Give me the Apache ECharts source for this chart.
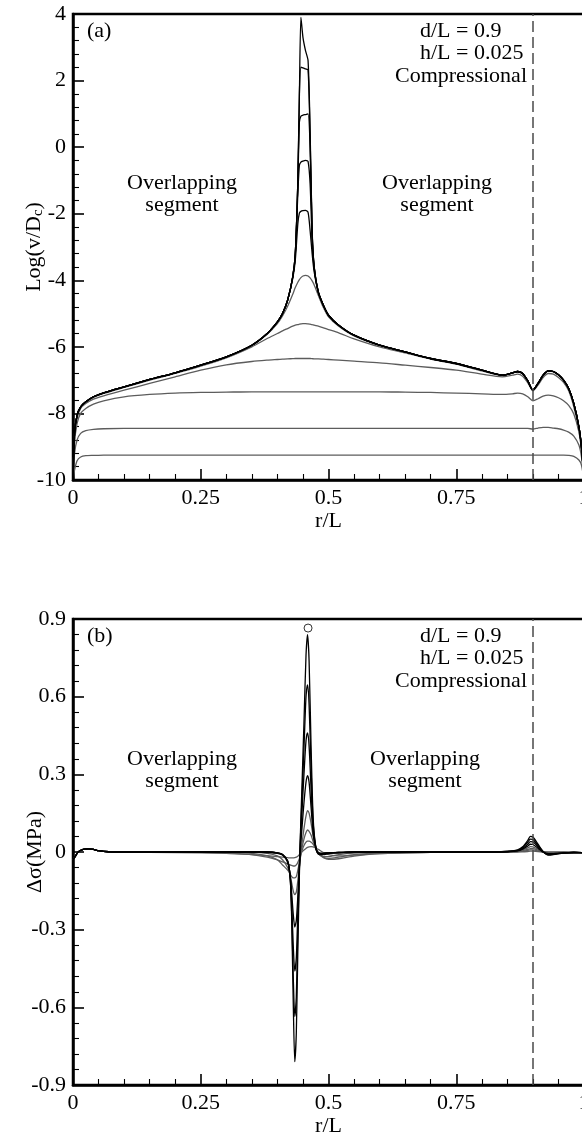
<!DOCTYPE html>
<html>
<head>
<meta charset="utf-8">
<script src="https://cdn.jsdelivr.net/npm/echarts@6/dist/echarts.min.js"></script>
<style>
  html, body { margin: 0; padding: 0; background: #fff; }
  #chart { width: 582px; height: 1136px; }
</style>
</head>
<body>
<div id="chart"></div>
<script>
// ---------- panel (a): Log(v/Dc) along r/L ----------
const rA = [0,0.003,0.008,0.015,0.025,0.04,0.06,0.1,0.15,0.2,
  0.25,0.3,0.35,0.38,0.4,0.41,0.42,0.43,0.435,0.44,
  0.443,0.446,0.45,0.455,0.46,0.464,0.468,0.472,0.48,0.49,
  0.5,0.52,0.55,0.6,0.65,0.7,0.75,0.8,0.84,0.86,
  0.87,0.88,0.89,0.9,0.91,0.92,0.93,0.94,0.95,0.96,
  0.97,0.98,0.99,0.995,1];

const logV1 = [-10,-9.7,-9.42,-9.31,-9.27,-9.26,-9.25,-9.25,-9.25,-9.25,
  -9.25,-9.25,-9.25,-9.25,-9.25,-9.25,-9.25,-9.25,-9.25,-9.25,
  -9.25,-9.25,-9.25,-9.25,-9.25,-9.25,-9.25,-9.25,-9.25,-9.25,
  -9.25,-9.25,-9.25,-9.25,-9.25,-9.25,-9.25,-9.25,-9.25,-9.25,
  -9.25,-9.25,-9.25,-9.25,-9.25,-9.25,-9.25,-9.25,-9.25,-9.25,
  -9.26,-9.29,-9.4,-9.55,-10];
const logV2 = [-10,-9.2,-8.8,-8.6,-8.52,-8.48,-8.46,-8.45,-8.45,-8.45,
  -8.45,-8.45,-8.45,-8.45,-8.45,-8.45,-8.45,-8.45,-8.45,-8.45,
  -8.45,-8.45,-8.45,-8.45,-8.45,-8.45,-8.45,-8.45,-8.45,-8.45,
  -8.45,-8.45,-8.45,-8.45,-8.45,-8.45,-8.45,-8.45,-8.45,-8.45,
  -8.45,-8.45,-8.45,-8.47,-8.44,-8.42,-8.42,-8.44,-8.46,-8.5,
  -8.56,-8.68,-8.95,-9.3,-10];
const logV3 = [-10,-8.9,-8.3,-8.0,-7.85,-7.72,-7.62,-7.5,-7.43,-7.39,
  -7.37,-7.36,-7.35,-7.35,-7.35,-7.35,-7.35,-7.35,-7.35,-7.35,
  -7.35,-7.35,-7.35,-7.35,-7.35,-7.35,-7.35,-7.35,-7.35,-7.35,
  -7.35,-7.35,-7.35,-7.35,-7.36,-7.37,-7.39,-7.41,-7.43,-7.41,
  -7.39,-7.41,-7.5,-7.62,-7.56,-7.48,-7.45,-7.47,-7.53,-7.62,
  -7.76,-8.02,-8.55,-9.05,-10];
const logV4 = [-10,-8.7,-8.15,-7.85,-7.7,-7.57,-7.47,-7.3,-7.1,-6.9,
  -6.7,-6.54,-6.44,-6.4,-6.38,-6.37,-6.36,-6.355,-6.35,-6.35,
  -6.35,-6.35,-6.35,-6.35,-6.35,-6.35,-6.355,-6.36,-6.36,-6.37,
  -6.38,-6.4,-6.43,-6.48,-6.55,-6.62,-6.7,-6.82,-6.9,-6.85,
  -6.82,-6.88,-7.08,-7.32,-7.15,-6.92,-6.8,-6.82,-6.92,-7.07,
  -7.32,-7.8,-8.5,-9.1,-10];
const logV5 = [-10,-8.62,-8.07,-7.82,-7.67,-7.52,-7.4,-7.22,-7.0,-6.8,
  -6.58,-6.33,-6.0,-5.75,-5.6,-5.52,-5.45,-5.38,-5.35,-5.33,
  -5.32,-5.31,-5.3,-5.3,-5.31,-5.32,-5.33,-5.35,-5.38,-5.43,
  -5.48,-5.58,-5.76,-6.0,-6.18,-6.37,-6.52,-6.72,-6.86,-6.79,
  -6.75,-6.81,-7.03,-7.3,-7.11,-6.86,-6.73,-6.75,-6.85,-7.01,
  -7.26,-7.72,-8.42,-9.02,-10];
const logV6 = [-10,-8.61,-8.06,-7.81,-7.66,-7.51,-7.39,-7.21,-6.99,-6.79,
  -6.56,-6.31,-5.96,-5.62,-5.3,-5.07,-4.78,-4.42,-4.22,-4.06,
  -3.98,-3.92,-3.87,-3.85,-3.87,-3.93,-4.02,-4.14,-4.45,-4.82,
  -5.1,-5.38,-5.67,-5.96,-6.16,-6.36,-6.51,-6.71,-6.85,-6.78,
  -6.74,-6.8,-7.02,-7.3,-7.1,-6.85,-6.72,-6.74,-6.84,-7.0,
  -7.25,-7.7,-8.4,-9.0,-10];
const logV7 = [-10,-8.6,-8.05,-7.8,-7.65,-7.5,-7.38,-7.2,-6.98,-6.78,
  -6.55,-6.3,-5.95,-5.6,-5.25,-5.0,-4.6,-3.95,-3.4,-2.3,
  -1.98,-1.93,-1.91,-1.9,-1.96,-2.5,-3.2,-3.75,-4.36,-4.76,
  -5.05,-5.35,-5.65,-5.95,-6.15,-6.35,-6.5,-6.7,-6.85,-6.78,
  -6.74,-6.8,-7.02,-7.3,-7.1,-6.85,-6.72,-6.74,-6.84,-7.0,
  -7.25,-7.7,-8.4,-9.0,-10];
const logV8 = [-10,-8.6,-8.05,-7.8,-7.65,-7.5,-7.38,-7.2,-6.98,-6.78,
  -6.55,-6.3,-5.95,-5.6,-5.25,-5.0,-4.6,-3.9,-3.25,-1.4,
  -0.55,-0.45,-0.42,-0.4,-0.43,-1.1,-2.8,-3.65,-4.35,-4.75,
  -5.05,-5.35,-5.65,-5.95,-6.15,-6.35,-6.5,-6.7,-6.85,-6.78,
  -6.74,-6.8,-7.02,-7.3,-7.1,-6.85,-6.72,-6.74,-6.84,-7.0,
  -7.25,-7.7,-8.4,-9.0,-10];
const logV9 = [-10,-8.6,-8.05,-7.8,-7.65,-7.5,-7.38,-7.2,-6.98,-6.78,
  -6.55,-6.3,-5.95,-5.6,-5.25,-5.0,-4.6,-3.9,-3.2,-1.1,
  0.75,0.93,0.96,0.98,1.0,0.0,-2.6,-3.6,-4.35,-4.75,
  -5.05,-5.35,-5.65,-5.95,-6.15,-6.35,-6.5,-6.7,-6.85,-6.78,
  -6.74,-6.8,-7.02,-7.3,-7.1,-6.85,-6.72,-6.74,-6.84,-7.0,
  -7.25,-7.7,-8.4,-9.0,-10];
const logV10 = [-10,-8.6,-8.05,-7.8,-7.65,-7.5,-7.38,-7.2,-6.98,-6.78,
  -6.55,-6.3,-5.95,-5.6,-5.25,-5.0,-4.6,-3.9,-3.2,-1.0,
  1.6,2.4,2.38,2.35,2.32,0.3,-2.55,-3.6,-4.35,-4.75,
  -5.05,-5.35,-5.65,-5.95,-6.15,-6.35,-6.5,-6.7,-6.85,-6.78,
  -6.74,-6.8,-7.02,-7.3,-7.1,-6.85,-6.72,-6.74,-6.84,-7.0,
  -7.25,-7.7,-8.4,-9.0,-10];
const logV11 = [-10,-8.6,-8.05,-7.8,-7.65,-7.5,-7.38,-7.2,-6.98,-6.78,
  -6.55,-6.3,-5.95,-5.6,-5.25,-5.0,-4.6,-3.9,-3.2,-1.0,
  1.5,3.9,3.3,2.9,2.6,0.5,-2.5,-3.6,-4.35,-4.75,
  -5.05,-5.35,-5.65,-5.95,-6.15,-6.35,-6.5,-6.7,-6.85,-6.78,
  -6.74,-6.8,-7.02,-7.3,-7.1,-6.85,-6.72,-6.74,-6.84,-7.0,
  -7.25,-7.7,-8.4,-9.0,-10];

// ---------- panel (b): stress change along r/L ----------
const rB = [0,0.005,0.01,0.02,0.03,0.04,0.05,0.07,0.1,0.2,
  0.3,0.35,0.38,0.4,0.41,0.42,0.425,0.428,0.431,0.434,
  0.437,0.44,0.444,0.448,0.452,0.456,0.459,0.462,0.466,0.47,
  0.475,0.48,0.49,0.5,0.52,0.55,0.6,0.7,0.8,0.85,
  0.87,0.88,0.89,0.895,0.9,0.91,0.92,0.93,0.94,0.96,
  0.98,1];

const dSig1 = [-0.03,-0.015,0,0.01,0.012,0.01,0.005,0.001,0,-0.002,
  -0.005,-0.01,-0.014,-0.018,-0.02,-0.022,-0.023,-0.023,-0.023,-0.022,
  -0.02,-0.016,-0.008,0,0.008,0.014,0.018,0.02,0.021,0.02,
  0.016,0.01,-0.002,-0.01,-0.015,-0.012,-0.006,-0.001,0,0,
  0.001,0.001,0.002,0.003,0.003,0.002,0,-0.001,-0.001,-0.001,
  -0.002,-0.003];
const dSig2 = [-0.03,-0.015,0,0.01,0.012,0.01,0.005,0.001,0,0,
  -0.003,-0.01,-0.02,-0.03,-0.038,-0.045,-0.05,-0.052,-0.054,-0.054,
  -0.05,-0.04,-0.02,0.005,0.025,0.038,0.042,0.042,0.038,0.03,
  0.015,0,-0.02,-0.028,-0.026,-0.016,-0.006,-0.001,0,0.001,
  0.001,0.003,0.006,0.008,0.008,0.004,0.001,-0.001,-0.001,-0.001,
  -0.002,-0.003];
const dSig3 = [-0.03,-0.015,0,0.01,0.012,0.01,0.005,0.001,0,0,
  0,-0.005,-0.015,-0.03,-0.05,-0.07,-0.085,-0.095,-0.1,-0.1,
  -0.095,-0.07,-0.03,0.015,0.05,0.075,0.085,0.08,0.065,0.04,
  0.015,-0.005,-0.022,-0.025,-0.02,-0.01,-0.003,0,0,0.001,
  0.002,0.005,0.01,0.013,0.013,0.007,0.001,-0.002,-0.002,-0.002,
  -0.002,-0.003];
const dSig4 = [-0.03,-0.015,0,0.01,0.012,0.01,0.005,0.001,0,0,
  0,0,-0.005,-0.015,-0.03,-0.06,-0.09,-0.12,-0.15,-0.165,
  -0.155,-0.11,-0.04,0.03,0.09,0.14,0.16,0.15,0.11,0.06,
  0.02,-0.005,-0.018,-0.018,-0.01,-0.004,-0.001,0,0,0.001,
  0.003,0.008,0.016,0.021,0.02,0.011,0.001,-0.004,-0.004,-0.002,
  -0.002,-0.003];
const dSig5 = [-0.03,-0.015,0,0.01,0.012,0.01,0.005,0.001,0,0,
  0,0,-0.002,-0.005,-0.012,-0.04,-0.09,-0.16,-0.24,-0.29,
  -0.265,-0.17,-0.02,0.09,0.19,0.27,0.295,0.27,0.17,0.07,
  0.015,-0.008,-0.01,-0.006,-0.003,-0.001,0,0,0,0.001,
  0.004,0.011,0.023,0.03,0.029,0.015,0,-0.006,-0.006,-0.003,
  -0.002,-0.003];
const dSig6 = [-0.03,-0.015,0,0.01,0.012,0.01,0.005,0.001,0,0,
  0,0,0,-0.003,-0.01,-0.035,-0.095,-0.2,-0.36,-0.46,
  -0.41,-0.23,-0.01,0.15,0.3,0.43,0.46,0.41,0.24,0.09,
  0.02,-0.004,-0.006,-0.004,-0.002,0,0,0,0,0.002,
  0.005,0.014,0.03,0.04,0.039,0.02,0,-0.008,-0.008,-0.003,
  -0.002,-0.003];
const dSig7 = [-0.03,-0.015,0,0.01,0.012,0.01,0.005,0.001,0,0,
  0,0,0,-0.003,-0.01,-0.035,-0.1,-0.24,-0.48,-0.635,
  -0.56,-0.3,0,0.2,0.4,0.6,0.645,0.57,0.32,0.11,
  0.02,-0.004,-0.005,-0.003,-0.002,0,0,0,0,0.002,
  0.006,0.017,0.038,0.05,0.048,0.025,0.001,-0.01,-0.009,-0.004,
  -0.002,-0.003];
const dSig8 = [-0.03,-0.015,0,0.01,0.012,0.01,0.005,0.001,0,0,
  0,0,0,-0.003,-0.01,-0.035,-0.1,-0.26,-0.58,-0.81,
  -0.7,-0.38,0,0.25,0.5,0.76,0.84,0.74,0.4,0.13,
  0.02,-0.004,-0.005,-0.003,-0.002,0,0,0,0,0.002,
  0.008,0.02,0.045,0.06,0.058,0.03,0.002,-0.012,-0.01,-0.004,
  -0.002,-0.003];

// open circle above the stress peak
const peakMarker = [[0.46, 0.865]];

// dashed line position (d/L)
const segmentEnd = 0.9;

// axis ranges / ticks
const rTicks = [0, 0.25, 0.5, 0.75, 1];
const logVRange = [-10, 4, 2];
const dSigRange = [-0.9, 0.9, 0.3];

// text
const caseLines = ['d/L = 0.9', 'h/L = 0.025', 'Compressional'];
const segLabel = ['Overlapping', 'segment'];
const panelTags = ['(a)', '(b)'];

// ---------- build ----------
const FONT = '"Liberation Serif", "Times New Roman", serif';
const FS = 22;

function zip(xs, ys) {
  if (xs.length !== ys.length) console.warn('length mismatch', xs.length, ys.length);
  return xs.map((x, i) => [x, ys[i]]);
}

const GRAY = '#5c5c5c';
const BLACK = '#000';

function lineSeries(xs, ys, idx, color, width) {
  return {
    type: 'line', xAxisIndex: idx, yAxisIndex: idx,
    data: zip(xs, ys), showSymbol: false, symbol: 'none',
    smooth: 0.25, lineStyle: { color: color, width: width },
    silent: true, z: 3
  };
}

const seriesA = [
  [logV1, GRAY], [logV2, GRAY], [logV3, GRAY], [logV4, GRAY], [logV5, GRAY], [logV6, GRAY],
  [logV7, BLACK], [logV8, BLACK], [logV9, BLACK], [logV10, BLACK], [logV11, BLACK]
].map(([ys, c]) => lineSeries(rA, ys, 0, c, 1.3));

const seriesB = [
  [dSig1, GRAY], [dSig2, GRAY], [dSig3, GRAY], [dSig4, GRAY],
  [dSig5, BLACK], [dSig6, BLACK], [dSig7, BLACK], [dSig8, BLACK]
].map(([ys, c]) => lineSeries(rB, ys, 1, c, 1.3));

function dashed(idx) {
  return {
    type: 'line', xAxisIndex: idx, yAxisIndex: idx, data: [], silent: true,
    markLine: {
      silent: true, symbol: 'none', animation: false,
      label: { show: false },
      lineStyle: { color: '#4a4a4a', width: 1.5, type: [11, 5] },
      data: [{ xAxis: segmentEnd }]
    }
  };
}

const markerSeries = {
  type: 'scatter', xAxisIndex: 1, yAxisIndex: 1, data: peakMarker,
  symbol: 'circle', symbolSize: 8, silent: true, z: 5,
  itemStyle: { color: '#fff', borderColor: '#000', borderWidth: 1 }
};

const labelStyle = { fontFamily: FONT, fontSize: FS, color: '#000' };

function xAxis(idx) {
  return {
    gridIndex: idx, type: 'value', min: rTicks[0], max: rTicks[rTicks.length - 1],
    interval: rTicks[1] - rTicks[0],
    axisLine: { show: true, onZero: false, lineStyle: { color: '#000', width: 2.5 } },
    axisTick: { show: true, inside: true, length: 11, lineStyle: { color: '#000', width: 1.6 } },
    minorTick: { show: true, splitNumber: 5, length: 6, lineStyle: { color: '#000', width: 1.1 } },
    splitLine: { show: false },
    axisLabel: Object.assign({ margin: 7, formatter: v => String(v) }, labelStyle),
    name: 'r/L', nameLocation: 'middle', nameGap: 28,
    nameTextStyle: Object.assign({}, labelStyle)
  };
}

function yAxis(idx, range, name, rich) {
  return {
    gridIndex: idx, type: 'value', min: range[0], max: range[1], interval: range[2],
    axisLine: { show: true, onZero: false, lineStyle: { color: '#000', width: 2.5 } },
    axisTick: { show: true, inside: true, length: 11, lineStyle: { color: '#000', width: 1.6 } },
    minorTick: { show: true, splitNumber: 5, length: 6, lineStyle: { color: '#000', width: 1.1 } },
    splitLine: { show: false },
    axisLabel: Object.assign({ margin: 7, formatter: v => String(Math.round(v * 10) / 10) }, labelStyle),
    name: name, nameLocation: 'middle', nameGap: 27, nameMoveOverlap: false,
    nameTextStyle: Object.assign({ rich: rich || {} }, labelStyle)
  };
}

function txt(text, x, y, align) {
  return {
    type: 'text', x: x, y: y, silent: true, z: 10,
    style: { text: text, fill: '#000', font: FS + 'px ' + FONT, align: align || 'left', verticalAlign: 'middle' }
  };
}

const OFF = 605;
const graphics = [];
[0, 1].forEach(p => {
  const dy = p * OFF;
  graphics.push(txt(panelTags[p], 87, 31 + dy));
  graphics.push(txt(caseLines[0], 420, 31 + dy));
  graphics.push(txt(caseLines[1], 420, 53 + dy));
  graphics.push(txt(caseLines[2], 527, 76 + dy, 'right'));
});
// segment labels
graphics.push(txt(segLabel[0], 182, 183, 'center'));
graphics.push(txt(segLabel[1], 182, 205, 'center'));
graphics.push(txt(segLabel[0], 437, 183, 'center'));
graphics.push(txt(segLabel[1], 437, 205, 'center'));
graphics.push(txt(segLabel[0], 182, 759, 'center'));
graphics.push(txt(segLabel[1], 182, 781, 'center'));
graphics.push(txt(segLabel[0], 425, 759, 'center'));
graphics.push(txt(segLabel[1], 425, 781, 'center'));

const gridBase = { left: 73, width: 511, height: 466, show: true, borderColor: '#000', borderWidth: 2.5,
  backgroundColor: 'transparent', containLabel: false, outerBoundsMode: 'none' };

const option = {
  animation: false,
  backgroundColor: '#fff',
  grid: [
    Object.assign({ top: 14 }, gridBase),
    Object.assign({ top: 619 }, gridBase)
  ],
  xAxis: [xAxis(0), xAxis(1)],
  yAxis: [
    yAxis(0, logVRange, 'Log(v/D{sub|c})', { sub: { fontFamily: FONT, fontSize: 15, padding: [9, 0, 0, 0] } }),
    yAxis(1, dSigRange, 'Δσ(MPa)')
  ],
  series: [].concat(seriesA, seriesB, [dashed(0), dashed(1), markerSeries]),
  graphic: graphics
};

const chart = echarts.init(document.getElementById('chart'), null, { renderer: 'canvas' });
chart.setOption(option);
</script>
</body>
</html>
